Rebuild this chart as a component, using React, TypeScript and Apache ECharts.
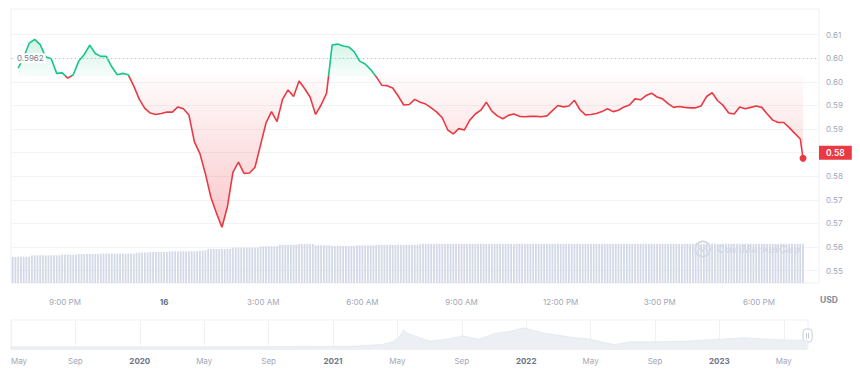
import React, { useEffect, useRef } from 'react';
import * as echarts from 'echarts';

// ---------- data ----------
const BASE_PRICE = 0.5962;
const MINUTE = 60000;
const HOUR = 60 * MINUTE;
const priceStart = new Date(2023, 5, 15, 19, 35).getTime(); // 10-minute steps
const volumeStart = new Date(2023, 5, 15, 19, 25).getTime(); // 5-minute steps

const priceValues = [
  0.5979, 0.6002, 0.6032, 0.6040, 0.6029, 0.6003, 0.5999, 0.5968, 0.5969, 0.5958,
  0.5965, 0.5994, 0.6008, 0.6028, 0.6010, 0.6004, 0.6004, 0.5982, 0.5965, 0.5968,
  0.5965, 0.5941, 0.5913, 0.5894, 0.5884, 0.5881, 0.5883, 0.5886, 0.5886, 0.5897,
  0.5893, 0.5880, 0.5823, 0.5798, 0.5755, 0.5705, 0.5672, 0.5642, 0.5686, 0.5759,
  0.5780, 0.5756, 0.5757, 0.5769, 0.5816, 0.5863, 0.5887, 0.5866, 0.5913, 0.5933,
  0.5919, 0.5952, 0.5936, 0.5918, 0.5881, 0.5901, 0.5926, 0.6028, 0.6030, 0.6026,
  0.6024, 0.6014, 0.5994, 0.5988, 0.5976, 0.5961, 0.5943, 0.5942, 0.5937, 0.5920,
  0.5901, 0.5902, 0.5913, 0.5907, 0.5903, 0.5895, 0.5886, 0.5874, 0.5848, 0.5840,
  0.5851, 0.5848, 0.5869, 0.5882, 0.5890, 0.5907, 0.5888, 0.5878, 0.5872, 0.5879,
  0.5882, 0.5877, 0.5876, 0.5877, 0.5877, 0.5876, 0.5878, 0.5889, 0.5900, 0.5897,
  0.5899, 0.5911, 0.5891, 0.5880, 0.5881, 0.5883, 0.5887, 0.5893, 0.5887, 0.5890,
  0.5897, 0.5901, 0.5914, 0.5912, 0.5921, 0.5926, 0.5918, 0.5914, 0.5904, 0.5896,
  0.5898, 0.5896, 0.5895, 0.5895, 0.5899, 0.5919, 0.5927, 0.5910, 0.5900, 0.5884,
  0.5882, 0.5897, 0.5893, 0.5896, 0.5899, 0.5896, 0.5882, 0.5869, 0.5864, 0.5864,
  0.5853, 0.5841, 0.5829,
];
const lastPrice = 0.5788;
const lastPriceTime = new Date(2023, 5, 16, 19, 20).getTime();

const volumeValues = [
  262, 261, 263, 262, 262, 263, 262,
  276, 277, 277, 278, 277, 276, 277, 278, 277, 277, 278,
  284, 284, 285, 284, 284, 285,
  290, 290, 291, 290, 290, 291, 290, 291,
  294, 294, 295, 294, 294, 295, 294, 294, 295, 294, 295, 294, 294,
  303, 304, 304, 305, 304,
  310, 310, 311, 310, 310, 311, 310,
  317, 317, 318, 317, 317, 318, 317, 317, 318, 317, 318,
  323, 324, 325,
  339, 340, 340, 341, 340, 340, 341, 340, 340,
  353, 354, 354, 355, 354, 354, 355, 354, 354, 355,
  366, 367, 367, 368, 367, 367, 368,
  381, 382, 382, 383, 382, 382, 383,
  389, 390, 391, 390, 390, 391,
  378, 377, 377, 378, 377, 377,
  370, 370, 371, 370, 370, 371, 370, 370, 371,
  376, 376, 377, 376, 376, 377, 376,
  382, 382, 383, 382, 382, 383, 382, 382, 383, 382, 382, 383, 382, 382, 383, 382,
  391, 392, 392, 393, 392, 391, 392, 393, 392, 392,
  393, 392, 391, 392, 392, 393, 392, 392, 391, 392,
  392, 393, 393, 392, 391, 392, 392, 393, 392, 392,
  391, 392, 393, 392, 392, 392, 393, 392, 391, 392,
  392, 393, 392, 392, 391, 392, 393, 393, 392, 392,
  392, 391, 392, 393, 392, 392, 392, 393, 392, 391,
  392, 392, 393, 392, 392, 391, 392, 392, 393, 392,
  393, 392, 392, 391, 392, 393, 392, 392, 392, 393,
  392, 391, 392, 392, 393, 392, 392, 391, 392, 392,
  393, 392, 392, 392, 391, 392, 393, 392, 392, 392,
  392, 393, 392, 391, 392, 392, 393, 392, 392, 391,
  392, 392, 393, 392, 392, 392, 391, 392, 393, 392,
  392, 391, 392, 393, 392, 392, 392, 393, 392, 391,
  392, 392, 393, 392, 391, 392, 392, 393, 392, 392,
];

// price-axis ticks: 0.555 .. 0.605 every 0.005, shown rounded to 2 decimals
const Y_TICK_MIN = 0.555;
const Y_TICK_MAX = 0.605;
const Y_TICK_STEP = 0.005;
const yTickLabels = ['0.55', '0.56', '0.57', '0.57', '0.58', '0.58', '0.59', '0.59', '0.60', '0.60', '0.61'];
const currencyLabel = 'USD';

// time-axis ticks: 9:00 PM .. 6:00 PM every 3 hours
const xTickFirst = new Date(2023, 5, 15, 21, 0).getTime();
const xTickLast = new Date(2023, 5, 16, 18, 0).getTime();

const navDates = [
  '2019-05-01', '2019-07-01', '2019-09-01', '2019-11-01', '2020-01-01', '2020-03-01',
  '2020-05-01', '2020-07-01', '2020-09-01', '2020-11-01', '2021-01-01', '2021-02-01',
  '2021-03-01', '2021-04-01', '2021-04-20', '2021-05-05', '2021-05-12', '2021-05-20',
  '2021-06-01', '2021-07-01', '2021-08-01', '2021-09-01', '2021-10-01', '2021-11-01',
  '2021-12-01', '2021-12-25', '2022-01-10', '2022-02-01', '2022-03-01', '2022-04-01',
  '2022-05-01', '2022-05-20', '2022-06-15', '2022-07-15', '2022-09-01', '2022-11-01',
  '2023-01-01', '2023-02-15', '2023-04-01', '2023-05-15', '2023-06-15',
];
const navValues = [
  0.16, 0.16, 0.16, 0.16, 0.16, 0.16,
  0.16, 0.17, 0.17, 0.18, 0.19, 0.20,
  0.25, 0.31, 0.47, 0.81, 1.21, 1.0,
  0.85, 0.52, 0.64, 0.85, 0.64, 1.0,
  1.14, 1.35, 1.21, 1.02, 0.89, 0.73,
  0.64, 0.48, 0.31, 0.48, 0.48, 0.52,
  0.64, 0.73, 0.64, 0.58, 0.58,
];
const navTickLabels = ['May', 'Sep', '2020', 'May', 'Sep', '2021', 'May', 'Sep', '2022', 'May', 'Sep', '2023', 'May'];

// ---------- helpers ----------
const GREEN = '#16c784';
const RED = '#ea3943';
const LABEL = '#a1a7b7';
const FONT = 'Inter, "Noto Sans", sans-serif';

function day(s: string) {
  const [y, m, d] = s.split('-').map(Number);
  return new Date(y, m - 1, d).getTime();
}

// main plot extents
const X_MIN = new Date(2023, 5, 15, 19, 22).getTime();
const X_MAX = new Date(2023, 5, 16, 19, 49).getTime();
const Y_MIN = 0.55239;
const Y_MAX = 0.61044;
const G_LEFT = 11, G_RIGHT = 819, G_TOP = 9, G_BOTTOM = 283, W = 860, H = 382;
// navigator extents
const NAV_MIN = day('2019-05-01');
const NAV_MAX = new Date(2023, 5, 15, 19, 20).getTime();
const NAV_LAST_TICK = day('2023-05-01');
const N_LEFT = 11, N_RIGHT = 808, N_TOP = 320, N_BOTTOM = 349.5;

const xPix = (t: number) => G_LEFT + ((t - X_MIN) / (X_MAX - X_MIN)) * (G_RIGHT - G_LEFT);
const yPix = (v: number) => G_TOP + ((Y_MAX - v) / (Y_MAX - Y_MIN)) * (G_BOTTOM - G_TOP);
const navPix = (t: number) => N_LEFT + ((t - NAV_MIN) / (NAV_MAX - NAV_MIN)) * (N_RIGHT - N_LEFT);

const priceData: [number, number][] = priceValues.map((v, i) => [priceStart + i * 10 * MINUTE, v]);
priceData.push([lastPriceTime, lastPrice]);
const volumeData = volumeValues.map((v, i) => [volumeStart + i * 5 * MINUTE, v]);
const navData = navDates.map((d, i) => [day(d), navValues[i]]);

function yLabel(v: number) {
  const i = Math.round((v - Y_TICK_MIN) / Y_TICK_STEP);
  return yTickLabels[i] ?? '';
}
function timeLabel(v: number) {
  const d = new Date(v);
  const h = d.getHours();
  if (h === 0 && d.getMinutes() === 0) return '{d|' + d.getDate() + '}';
  const hh = h % 12 === 0 ? 12 : h % 12;
  return hh + ':' + String(d.getMinutes()).padStart(2, '0') + ' ' + (h < 12 ? 'AM' : 'PM');
}
function navLabel(v: number) {
  const s = navTickLabels[Math.round(v)] ?? '';
  return /^\d{4}$/.test(s) ? '{y|' + s + '}' : s;
}

const baseY = yPix(BASE_PRICE);
const areaGradient = new echarts.graphic.LinearGradient(
  0, G_TOP, 0, G_BOTTOM,
  [
    { offset: 0, color: 'rgba(22,199,132,0.34)' },
    { offset: (baseY - G_TOP) / (G_BOTTOM - G_TOP), color: 'rgba(22,199,132,0.03)' },
    { offset: (baseY - G_TOP) / (G_BOTTOM - G_TOP), color: 'rgba(234,57,67,0.02)' },
    { offset: 0.8, color: 'rgba(234,57,67,0.28)' },
    { offset: 1, color: 'rgba(234,57,67,0.30)' },
  ],
  true
);

const hiddenAxis = (gridIndex: number) => ({
  type: 'value', gridIndex, min: 0, max: 1, show: false, splitLine: { show: false },
});

const option: any = {
  animation: false,
  textStyle: { fontFamily: FONT },
  grid: [
    // 0 main plot
    { left: G_LEFT, right: W - G_RIGHT, top: G_TOP, bottom: H - G_BOTTOM, show: true, borderColor: '#eef0f3', borderWidth: 1 },
    // 1 navigator
    { left: N_LEFT, right: W - N_RIGHT, top: N_TOP, bottom: H - N_BOTTOM, show: true, borderColor: '#eff1f4', borderWidth: 1 },
    // 2 price tick overlay (0.555 .. 0.605)
    { left: G_LEFT, right: W - G_RIGHT, top: yPix(Y_TICK_MAX), bottom: H - yPix(Y_TICK_MIN) },
    // 3 time tick overlay (21:00 .. 18:00)
    { left: xPix(xTickFirst), right: W - xPix(xTickLast), top: G_TOP, bottom: H - G_BOTTOM },
    // 4 navigator tick overlay
    { left: N_LEFT, right: W - navPix(NAV_LAST_TICK), top: N_TOP, bottom: H - N_BOTTOM },
  ],
  visualMap: {
    show: false,
    type: 'piecewise',
    seriesIndex: 0,
    dimension: 1,
    pieces: [
      { gt: BASE_PRICE, lte: 10, color: GREEN },
      { gt: 0, lte: BASE_PRICE, color: RED },
    ],
  },
  xAxis: [
    { type: 'value', gridIndex: 0, min: X_MIN, max: X_MAX, show: false, splitLine: { show: false } },
    { type: 'value', gridIndex: 1, min: NAV_MIN, max: NAV_MAX, show: false, splitLine: { show: false } },
    hiddenAxis(2),
    {
      type: 'value',
      gridIndex: 3,
      min: xTickFirst,
      max: xTickLast,
      interval: 3 * HOUR,
      axisLine: { show: false },
      axisTick: { show: false },
      splitLine: { show: false },
      axisLabel: {
        formatter: timeLabel,
        color: LABEL,
        fontSize: 8,
        margin: 15,
        fontFamily: FONT,
        rich: { d: { fontWeight: 700, color: '#636d80', fontSize: 8, fontFamily: FONT } },
      },
    },
    {
      type: 'value',
      gridIndex: 4,
      min: 0,
      max: navTickLabels.length - 1,
      interval: 1,
      axisLine: { show: false },
      axisTick: { show: false },
      splitLine: { show: true, lineStyle: { color: '#eff1f4', width: 1 } },
      axisLabel: {
        formatter: navLabel,
        alignMinLabel: 'left',
        color: LABEL,
        fontSize: 8,
        margin: 7,
        fontFamily: FONT,
        rich: { y: { fontWeight: 700, color: '#6c7589', fontSize: 8, fontFamily: FONT } },
      },
    },
  ],
  yAxis: [
    { type: 'value', gridIndex: 0, min: Y_MIN, max: Y_MAX, show: false, splitLine: { show: false } },
    { type: 'value', gridIndex: 0, min: 0, max: 2740, show: false, splitLine: { show: false } },
    { type: 'value', gridIndex: 1, min: 0, max: 1.83, show: false, splitLine: { show: false } },
    {
      type: 'value',
      gridIndex: 2,
      position: 'right',
      min: Y_TICK_MIN,
      max: Y_TICK_MAX,
      interval: Y_TICK_STEP,
      axisLine: { show: false },
      axisTick: { show: false },
      splitLine: { show: true, lineStyle: { color: '#f2f3f6', width: 1 } },
      axisLabel: { formatter: yLabel, color: LABEL, fontSize: 8, margin: 7, fontFamily: FONT },
    },
    hiddenAxis(3),
    hiddenAxis(4),
  ],
  series: [
    {
      name: 'price',
      type: 'line',
      xAxisIndex: 0,
      yAxisIndex: 0,
      data: priceData,
      showSymbol: false,
      symbol: 'none',
      z: 4,
      lineStyle: { width: 1.6 },
      areaStyle: { origin: BASE_PRICE, color: areaGradient, opacity: 1 },
      silent: true,
      markLine: {
        silent: true,
        symbol: ['none', 'none'],
        lineStyle: { color: '#b9bfcb', type: [1, 3], width: 1 },
        label: {
          show: true,
          position: 'insideStartTop',
          distance: [4, 0],
          verticalAlign: 'middle',
          formatter: BASE_PRICE.toFixed(4),
          backgroundColor: '#fff',
          padding: [1, 2],
          color: '#767d90',
          fontSize: 8,
          fontFamily: FONT,
        },
        data: [{ yAxis: BASE_PRICE }],
      },
    },
    {
      name: 'volume',
      type: 'bar',
      xAxisIndex: 0,
      yAxisIndex: 1,
      data: volumeData,
      barWidth: 1.8,
      itemStyle: { color: '#d3d9e6' },
      silent: true,
      z: 1,
    },
    {
      name: 'last',
      type: 'scatter',
      xAxisIndex: 0,
      yAxisIndex: 0,
      data: [[lastPriceTime, lastPrice]],
      symbolSize: 7,
      itemStyle: { color: RED, opacity: 1 },
      silent: true,
      z: 6,
      markLine: {
        silent: true,
        symbol: ['none', 'none'],
        lineStyle: { color: 'rgba(0,0,0,0)', width: 0 },
        label: {
          show: true,
          position: 'end',
          distance: 0,
          formatter: lastPrice.toFixed(2),
          backgroundColor: RED,
          color: '#fff',
          opacity: 1,
          fontWeight: 600,
          fontSize: 8.5,
          padding: [3, 7, 2, 7],
          fontFamily: FONT,
        },
        data: [{ yAxis: lastPrice }],
      },
    },
    {
      name: 'history',
      type: 'line',
      xAxisIndex: 1,
      yAxisIndex: 2,
      data: navData,
      showSymbol: false,
      symbol: 'none',
      silent: true,
      lineStyle: { color: '#dfe3ea', width: 0.6 },
      areaStyle: { color: '#eceff4', opacity: 1 },
    },
  ],
  graphic: [
    {
      type: 'text',
      x: 820,
      y: 300,
      style: { text: currencyLabel, fontSize: 8.5, fontWeight: 700, fontFamily: FONT, fill: '#808a9d', verticalAlign: 'middle' },
    },
    {
      type: 'group',
      z: 5,
      children: [
        { type: 'circle', shape: { cx: 702.7, cy: 249, r: 7.5 }, style: { fill: 'none', stroke: 'rgba(150,160,182,0.45)', lineWidth: 1.6 } },
        {
          type: 'polyline',
          shape: { points: [[697.8, 252], [700, 246.5], [702.7, 251], [705.4, 246.5], [707.6, 252]] },
          style: { fill: 'none', stroke: 'rgba(150,160,182,0.45)', lineWidth: 1.4 },
        },
        {
          type: 'text',
          x: 717,
          y: 249,
          style: { text: 'CoinMarketCap', fontSize: 11, fontWeight: 600, fontFamily: FONT, fill: 'rgba(150,160,182,0.45)', verticalAlign: 'middle' },
        },
      ],
    },
    {
      type: 'group',
      z: 5,
      children: [
        { type: 'rect', shape: { x: 803, y: 329, width: 9, height: 13, r: 3 }, style: { fill: '#fff', stroke: '#c9ced8', lineWidth: 1 } },
        { type: 'line', shape: { x1: 806.5, y1: 333, x2: 806.5, y2: 338.5 }, style: { stroke: '#b5bbc7', lineWidth: 0.8 } },
        { type: 'line', shape: { x1: 808.5, y1: 333, x2: 808.5, y2: 338.5 }, style: { stroke: '#b5bbc7', lineWidth: 0.8 } },
      ],
    },
  ],
};

export default function App() {
  const ref = useRef<HTMLDivElement>(null);
  useEffect(() => {
    const chart = echarts.init(ref.current as HTMLDivElement, null, { renderer: 'svg' });
    chart.setOption(option);
    return () => chart.dispose();
  }, []);
  return (
    <div
      ref={ref}
      style={{ position: 'fixed', left: 0, top: 0, width: W, height: H, background: '#fff' }}
    />
  );
}
